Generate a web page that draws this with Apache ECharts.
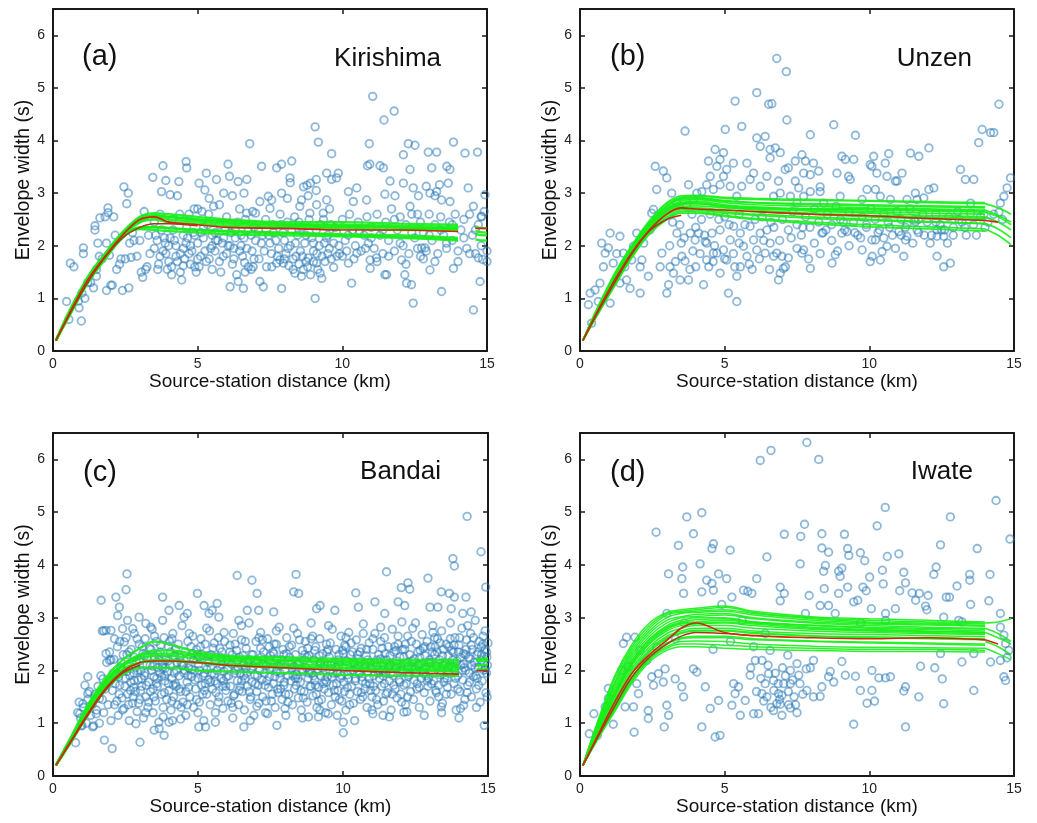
<!DOCTYPE html>
<html>
<head>
<meta charset="utf-8">
<script src="https://cdn.jsdelivr.net/npm/echarts@6.0.0/dist/echarts.min.js"></script>
<style>
  html, body { margin: 0; padding: 0; background: #ffffff; }
  #chart { width: 1037px; height: 823px; }
</style>
</head>
<body>
<div id="chart"></div>
<script>
// ---------------- data ----------------
const panelLetters = ['(a)', '(b)', '(c)', '(d)'];
const volcanoNames = ['Kirishima', 'Unzen', 'Bandai', 'Iwate'];
const xTickValues = [0, 5, 10, 15];
const yTickValues = [0, 1, 2, 3, 4, 5, 6];

// distances (km) at which the fitted envelope-width curves are sampled
const FIT_X = [0.1, 0.6, 1.2, 1.8, 2.4, 3, 3.5, 4, 5, 6, 8, 10, 12, 14];

// observations, flat [distance, width, distance, width, ...]
const kirishimaObs = [
0.47,0.94, 0.55,0.6, 0.6,1.67, 0.72,1.6, 0.88,0.95, 0.9,0.82, 0.98,0.57, 1.0,1.1, 1.05,1.96, 1.05,1.85,
1.1,1.0, 1.2,1.3, 1.3,1.3, 1.4,1.2, 1.45,2.38, 1.45,2.3, 1.5,1.42, 1.5,1.55, 1.55,2.05, 1.62,2.53,
1.6,1.8, 1.7,1.75, 1.8,2.55, 1.85,2.05, 1.85,1.15, 1.9,2.72, 1.9,2.63, 1.95,1.82, 2.0,1.25, 2.05,1.25,
2.1,2.55, 2.15,2.2, 2.2,1.55, 2.3,1.65, 2.35,1.75, 2.4,1.15, 2.45,3.12, 2.5,1.75, 2.55,2.8, 2.6,3.0,
2.62,1.2, 2.65,2.05, 2.7,1.78, 2.75,2.25, 2.8,2.1, 2.9,1.8, 3.0,2.1, 3.05,1.5, 3.1,1.4, 3.15,2.65,
3.2,1.55, 3.25,1.6, 3.3,2.2, 3.45,3.3, 3.5,1.95, 3.6,2.1, 3.65,1.65, 3.7,2.6, 3.75,3.03, 3.8,3.52,
3.8,1.9, 3.85,2.15, 3.9,3.24, 3.9,1.85, 3.95,1.55, 4.0,2.0, 4.05,2.97, 4.1,1.6, 4.1,1.45, 4.15,2.3,
4.2,2.1, 4.25,1.8, 4.3,2.95, 4.35,3.22, 4.4,1.5, 4.4,1.85, 4.45,1.35, 4.5,2.2, 4.55,1.75, 4.6,3.6,
4.62,3.48, 4.65,2.15, 4.7,2.6, 4.75,1.65, 4.8,1.9, 4.85,2.25, 4.9,1.6, 4.95,1.5, 5.0,2.7, 5.0,2.05,
5.05,3.19, 5.1,1.8, 5.15,2.65, 5.2,2.15, 5.25,3.06, 5.3,3.38, 5.3,1.7, 5.35,2.4, 5.4,2.9, 5.45,1.95,
5.5,2.2, 5.55,2.75, 5.6,1.9, 5.65,3.26, 5.7,2.1, 5.75,2.78, 5.8,1.5, 5.85,2.05, 5.9,3.0, 5.95,2.3,
6.0,1.85, 6.05,3.55, 6.1,3.32, 6.12,1.22, 6.15,2.25, 6.2,2.95, 6.25,1.95, 6.3,2.15, 6.35,1.45, 6.4,3.22,
6.4,1.32, 6.45,2.7, 6.5,2.0, 6.55,1.8, 6.58,1.19, 6.6,3.0, 6.65,2.5, 6.7,3.26, 6.75,1.6, 6.8,3.94,
6.85,2.2, 6.9,2.65, 6.95,1.75, 7.0,2.1, 3.55,2.2, 3.7,1.8, 4.05,2.15, 4.3,1.7, 4.5,1.95, 4.6,2.05,
4.7,1.85, 4.9,2.2, 5.05,1.6, 5.2,2.35, 5.4,1.75, 5.5,2.0, 5.6,2.25, 5.75,1.7, 5.9,2.15, 6.05,2.0,
6.2,1.65, 6.3,2.3, 6.45,1.9, 6.6,2.15, 6.7,1.95, 6.85,1.55, 6.95,2.35,
11.05,4.84, 11.79,4.56, 11.44,4.39, 9.06,4.26, 9.17,3.97, 10.93,3.94, 9.63,3.75, 12.28,3.94, 12.51,3.91, 12.97,3.78,
13.26,3.78, 13.84,3.97, 14.24,3.76, 14.67,3.78, 8.25,3.61, 7.9,3.55, 7.73,3.48, 7.21,3.51, 10.87,3.52, 10.95,3.55,
11.3,3.52, 11.42,3.48, 12.11,3.73, 12.34,3.45, 13.09,3.48, 13.61,3.51, 13.72,3.45, 9.46,3.38, 9.86,3.38, 9.8,3.29,
8.19,3.29, 8.2,3.2, 8.9,3.19, 8.78,3.15, 8.66,3.12, 9.1,3.26, 9.63,3.26, 11.65,3.23, 12.11,3.19, 12.45,3.1,
12.9,3.13, 13.36,3.16, 13.66,3.19, 14.35,3.1, 14.93,2.97, 14.81,2.56, 14.53,2.75, 13.2,2.95, 13.03,3.0, 13.26,3.03,
13.43,2.87, 13.72,2.84, 12.63,2.95, 12.34,2.75, 11.82,2.95, 11.47,2.98, 10.84,2.87, 10.21,3.03, 10.5,3.1, 10.38,2.84,
7.56,2.87, 7.5,2.71, 7.44,2.94, 7.15,2.84, 6.69,2.62, 7.9,3.0, 8.1,2.9, 8.59,2.87, 8.53,2.75, 8.82,2.95,
9.1,3.05, 9.46,2.87, 9.56,2.7, 9.34,2.62, 9.11,2.78,
15.0,1.7, 14.85,1.74, 14.7,1.77, 14.76,1.32, 14.53,0.78, 13.84,1.57, 13.43,1.13, 13.03,1.54, 12.45,0.91, 12.39,1.26,
12.22,1.29, 12.05,1.73, 12.16,1.45, 12.74,1.96, 12.86,1.96, 12.7,1.8, 11.47,1.45, 11.53,1.45, 11.18,1.77, 10.96,1.73,
10.96,1.57, 10.32,1.29, 10.5,1.86, 10.21,1.67, 9.81,1.8, 9.7,1.59, 9.29,1.38, 9.23,1.48, 9.06,1.0, 9.11,1.67,
8.82,1.77, 8.59,1.42, 8.36,1.48, 7.9,1.19, 7.96,1.67, 7.84,1.73, 7.73,1.67, 7.56,1.6, 7.27,1.22, 7.15,1.32,
6.64,1.5, 6.92,1.6,
7.1,2.3, 7.2,2.05, 7.3,1.9, 7.35,2.5, 7.45,2.2, 7.55,1.85, 7.6,2.4, 7.7,2.1, 7.8,1.95, 7.85,2.6,
7.95,2.25, 8.05,1.85, 8.1,2.45, 8.2,2.0, 8.3,1.75, 8.35,2.55, 8.45,2.2, 8.55,1.9, 8.6,2.35, 8.7,2.05,
8.75,1.7, 8.85,2.5, 8.95,2.15, 9.0,1.9, 9.1,2.3, 9.2,2.0, 9.3,1.8, 9.35,2.5, 9.45,2.15, 9.55,1.95,
9.6,2.4, 9.7,2.05, 9.8,2.25, 9.9,1.85, 10.0,2.5, 10.1,2.1, 10.15,1.9, 10.25,2.6, 10.35,2.3, 10.45,2.0,
10.55,2.45, 10.65,1.9, 10.75,2.2, 10.85,2.55, 10.9,2.05, 11.0,2.35, 11.1,1.95, 11.2,2.6, 11.3,2.2, 11.4,1.85,
11.5,2.45, 11.6,2.1, 11.7,2.7, 11.8,1.9, 11.9,2.3, 12.0,2.55, 12.1,2.0, 12.2,2.4, 12.3,1.85, 12.4,2.6,
12.5,2.15, 12.6,1.95, 12.7,2.45, 12.8,2.25, 12.9,1.9, 13.0,2.6, 13.1,2.1, 13.2,2.4, 13.3,1.85, 13.4,2.55,
13.5,2.2, 13.6,1.95, 13.7,2.45, 13.8,2.1, 13.9,2.6, 14.0,1.9, 14.1,2.3, 14.2,2.5, 14.3,1.95, 14.4,2.6,
14.5,2.2, 14.6,1.85, 14.7,2.4, 14.8,2.0, 14.9,2.65, 15.0,1.9,
8.0,1.75, 8.15,1.62, 8.3,1.55, 8.4,1.8, 8.5,1.65, 8.65,1.55, 8.8,1.6, 8.9,1.45, 9.0,1.7, 9.15,1.55,
9.4,1.7, 9.5,1.85,
3.35,1.85, 3.5,2.45, 3.62,1.55, 3.75,2.3, 3.88,2.05, 4.0,1.7, 4.12,2.5, 4.25,2.0, 4.38,2.6, 4.5,1.62,
4.62,2.35, 4.75,2.0, 4.88,2.7, 5.0,1.75, 5.12,2.25, 5.25,1.9, 5.38,2.6, 5.5,1.55, 5.62,2.1, 5.75,2.4,
5.88,1.8, 6.0,2.55, 6.12,2.0, 6.25,1.75, 6.38,2.45, 6.5,2.2, 6.62,1.68, 6.75,2.3, 6.88,1.9, 7.0,2.62,
7.12,1.75, 7.25,2.2, 7.38,1.6, 7.5,2.05, 7.62,2.25, 7.75,1.8, 7.88,2.4, 8.0,2.1, 8.12,1.95, 8.25,2.3,
8.38,2.05, 8.5,2.45, 8.62,1.8, 8.75,2.2, 8.88,2.62, 9.0,2.05, 9.12,1.85, 9.25,2.4, 9.38,2.05, 9.5,2.2,
9.62,1.75, 9.75,2.35, 9.88,2.0, 10.0,1.8, 10.2,2.2, 10.4,1.75, 10.6,2.28, 10.8,1.95, 11.0,2.15, 11.2,1.7,
11.4,2.3, 11.6,1.8, 11.8,2.5, 12.0,2.05, 12.2,1.65, 12.4,2.25, 12.6,2.6, 12.8,1.75, 13.0,2.2, 13.2,1.7,
13.4,2.3, 13.6,2.05, 13.8,2.4, 14.0,1.7, 14.2,2.15, 14.4,1.85, 14.6,2.3, 14.8,2.55
];

const unzenObs = [
0.29,0.88, 0.35,1.1, 0.4,0.53, 0.52,1.16, 0.63,0.94, 0.75,2.05, 0.69,1.29, 0.81,1.6, 0.87,1.86, 0.98,1.96,
1.04,2.24, 1.04,0.91, 1.15,1.67, 1.27,1.85, 1.38,1.29, 1.38,2.18, 1.5,1.86, 1.55,1.6, 1.61,1.35, 1.73,1.19,
1.79,1.73, 1.85,1.99, 1.96,2.24, 2.08,1.1, 2.08,1.6, 2.14,1.73, 2.2,2.05, 2.36,1.42, 2.42,2.3, 2.48,2.62,
2.54,2.69, 2.6,3.51, 2.65,3.07, 2.77,1.6, 2.83,1.86, 2.88,3.42, 3.0,3.29, 3.0,1.1, 3.06,1.26, 3.17,3.0,
3.11,1.6, 3.23,1.48, 3.35,2.24, 3.46,1.35, 3.52,1.8, 3.63,4.18, 3.63,1.71, 3.75,3.16, 3.75,1.35, 3.81,2.24,
3.87,2.6, 4.04,3.0, 4.1,2.24, 4.27,1.26, 4.33,2.08, 4.38,1.73, 4.44,3.61, 4.5,3.32, 4.61,1.86, 4.67,3.83,
4.73,3.51, 4.84,3.64, 4.84,1.48, 4.96,3.77, 5.02,4.21, 5.07,3.45, 5.13,1.1, 5.3,3.57, 5.36,4.75, 5.42,0.94,
5.42,1.42, 5.54,1.6, 5.59,4.27, 5.77,3.57, 5.88,3.26, 6.11,4.91, 6.11,4.05, 6.23,3.89, 6.4,4.08, 6.52,4.69,
6.57,3.67, 6.75,3.86,
3.98,2.11, 4.38,2.05, 4.56,2.24, 4.73,1.86, 4.84,2.3, 4.96,1.92, 5.07,1.73, 5.19,2.11, 5.31,2.37, 5.54,2.24,
5.65,1.99, 5.77,1.8, 5.88,2.37, 6.0,2.11, 6.11,1.92, 6.23,2.24, 6.4,1.86, 6.46,2.3, 6.57,2.05, 6.69,1.8,
3.35,2.81, 3.69,2.75, 3.92,2.88, 4.21,3.03, 4.38,3.16, 4.61,3.07, 4.84,3.16, 4.96,3.32, 5.19,3.13, 5.42,2.94,
5.59,3.13, 6.0,3.38, 6.23,3.13, 6.46,3.32, 6.69,2.94, 3.2,2.45, 3.5,2.05, 3.9,1.9, 4.2,2.5, 4.5,2.6,
5.0,2.55, 5.5,2.6, 6.3,2.55, 6.6,2.45, 4.0,1.6, 4.6,1.7, 5.3,1.85, 5.95,1.55,
6.8,5.56, 7.13,5.31, 6.63,4.7, 7.15,4.39, 8.77,4.3, 7.96,4.11, 9.52,4.1, 6.57,3.83, 6.92,3.77, 7.67,3.73,
7.44,3.61, 7.79,3.61, 8.07,3.57, 7.09,3.45, 7.2,3.48, 7.73,3.38, 7.96,3.35, 8.25,3.42, 6.86,3.23, 7.44,3.23,
7.56,3.1, 8.88,3.38, 9.05,3.7, 9.17,3.64, 9.46,3.64, 9.28,3.32, 9.34,3.26, 10.03,3.54, 10.15,3.7, 10.55,3.57,
10.67,3.75, 10.09,3.51, 10.26,3.38, 10.61,3.32, 10.9,3.23, 10.96,3.23, 11.13,3.38, 11.42,3.76, 11.71,3.7, 12.06,3.86,
13.15,3.45, 13.32,3.26, 13.61,3.26, 13.78,3.96, 13.9,4.21, 14.19,4.15, 14.3,4.15, 14.48,4.69, 14.88,3.29, 14.76,3.1,
14.65,2.94, 14.53,2.81, 14.48,2.64, 13.5,2.81, 12.23,3.1, 12.06,3.07, 11.88,2.91, 11.59,3.0, 11.65,2.88, 11.3,2.88,
10.73,2.88, 10.38,2.94, 10.21,3.07, 9.92,3.07, 9.75,2.88, 8.99,2.94, 8.42,2.81, 8.3,3.03, 8.3,3.12, 7.96,3.03,
7.73,2.94, 7.5,2.81, 6.92,3.0, 7.27,2.94,
6.86,1.35, 6.92,1.48, 7.03,1.57, 6.98,1.8, 6.8,1.86, 7.2,1.77, 7.67,1.86, 7.73,1.92, 7.96,1.57, 8.71,1.67,
8.82,1.83, 8.36,2.24, 9.05,2.24, 9.23,2.27, 9.75,1.92, 10.03,1.7, 10.09,2.11, 10.21,2.11, 10.38,1.73, 10.44,1.89,
10.61,1.99, 11.02,2.27, 11.19,1.8, 11.25,2.11, 11.3,2.18, 11.65,2.3, 11.59,2.46, 12.34,2.3, 12.34,2.18, 12.57,2.18,
12.34,1.8, 12.57,1.6, 12.8,1.67, 13.5,2.62, 13.96,2.6,
7.0,2.5, 7.2,2.3, 7.35,2.65, 7.5,2.4, 7.65,2.2, 7.8,2.55, 7.95,2.35, 8.1,2.7, 8.25,2.45, 8.4,2.25,
8.55,2.6, 8.7,2.4, 8.85,2.75, 9.0,2.5, 9.15,2.3, 9.3,2.65, 9.45,2.45, 9.6,2.2, 9.75,2.55, 9.9,2.35,
10.05,2.7, 10.2,2.5, 10.35,2.3, 10.5,2.6, 10.65,2.45, 10.8,2.2, 10.95,2.65, 11.1,2.5, 11.25,2.35, 11.4,2.7,
11.55,2.5, 11.7,2.25, 11.85,2.6, 12.0,2.45, 12.15,2.2, 12.3,2.6, 12.45,2.4, 12.6,2.3, 12.75,2.55, 12.9,2.35,
13.05,2.65, 13.2,2.45, 13.35,2.2, 13.6,2.4, 13.85,2.55, 14.1,2.45, 14.6,2.5,
3.1,2.0, 3.3,1.7, 3.45,2.4, 3.6,2.15, 3.8,1.55, 4.0,2.35, 4.15,1.85, 4.3,2.2, 4.45,1.6, 4.65,2.0,
4.8,2.5, 5.0,1.75, 5.15,2.4, 5.35,1.6, 5.5,2.05, 5.7,2.4, 5.85,1.65, 6.05,2.5, 6.2,1.75, 6.35,2.1,
6.55,1.55, 6.7,2.35, 6.9,2.1, 7.1,1.6, 7.3,2.15, 7.5,1.95, 7.7,2.35, 7.9,1.75, 8.1,2.05, 8.3,1.85,
8.5,2.3, 8.7,2.1, 8.9,1.9, 9.1,2.45, 9.3,2.0, 9.5,2.25, 9.7,2.15, 9.9,2.4, 10.1,1.8, 10.3,2.25,
10.5,2.15, 10.7,2.35, 10.9,1.95, 11.1,2.2, 11.3,2.4, 11.5,2.05, 11.7,2.5, 11.9,2.2, 12.1,2.05, 12.3,2.45,
12.5,2.3, 12.7,2.05, 12.9,2.2, 13.1,2.5, 13.3,2.35, 13.7,2.2, 14.0,2.35, 14.3,2.6
];

const bandaiObs = [
0.78,0.63, 0.97,0.96, 0.92,1.18, 1.03,1.37, 1.2,1.56, 1.2,1.88, 1.37,0.93, 1.49,1.18, 1.6,1.47, 1.66,3.33,
1.72,1.84, 1.77,0.68, 1.83,2.76, 2.0,2.76, 1.83,2.32, 1.95,2.19, 2.04,0.52, 2.17,3.39, 2.29,3.2, 2.23,3.04,
2.4,2.79, 2.46,2.54, 2.52,3.53, 2.55,3.83, 2.57,2.95, 2.75,2.79, 2.8,1.81, 2.86,0.99, 2.97,3.01, 3.0,0.64,
3.2,2.89, 3.37,2.82, 3.49,0.87, 3.66,0.9, 3.78,2.95, 3.83,0.77, 3.78,3.39, 4.0,3.14, 4.0,1.02, 4.12,1.05,
4.35,3.23, 4.52,3.01, 4.63,3.08, 4.98,3.46, 5.03,0.93, 5.21,3.23, 5.26,0.93, 5.38,3.08, 5.49,3.14, 5.66,3.27,
5.72,3.01, 6.35,3.8, 6.58,0.93, 6.41,2.95, 6.7,3.14, 6.86,3.71, 7.04,3.46,
14.28,4.92, 14.76,4.25, 13.79,4.12, 13.84,3.98, 11.5,3.87, 8.38,3.82, 12.93,3.75, 12.24,3.66, 8.3,3.49, 8.47,3.46,
10.44,3.47, 12.01,3.57, 12.3,3.54, 11.1,3.3, 13.39,3.49, 13.67,3.46, 13.84,3.39, 14.24,3.39, 14.92,3.58, 15.04,3.33,
9.21,3.23, 9.09,3.17, 7.09,3.14, 7.61,3.11, 9.72,3.14, 10.53,3.2, 11.44,3.08, 11.9,3.3, 12.13,3.23, 13.0,3.2,
13.27,3.2, 13.73,3.17, 14.13,3.08, 14.42,3.11,
14.87,0.96, 10.01,1.02, 10.01,0.82, 7.72,0.96, 9.15,1.12, 8.81,1.12, 9.49,1.18, 11.03,1.18, 11.38,1.15, 12.1,1.21,
13.39,1.31, 14.05,1.28, 14.16,1.34, 14.97,1.5,
0.85,1.2, 0.9,1.4, 0.95,1.1, 1.0,0.95, 1.05,1.3, 1.1,1.72, 1.15,1.0, 1.2,1.45, 1.25,1.6, 1.3,1.15,
1.35,1.35, 1.4,0.95, 1.45,1.55, 1.5,1.25, 1.55,1.7, 1.6,1.0, 1.65,1.9, 1.7,1.45, 1.75,1.2, 1.8,1.65,
1.85,2.15, 1.9,1.35, 1.95,1.8, 2.0,1.05, 1.7,2.75, 1.75,2.75, 1.95,2.35, 2.0,2.2,
2.05,1.62, 2.1,2.21, 2.12,1.35, 2.18,1.9, 2.22,2.45, 2.25,1.15, 2.3,1.72, 2.33,2.05, 2.38,1.48, 2.42,2.3,
2.45,1.28, 2.5,1.85, 2.52,2.62, 2.57,1.55, 2.6,2.08, 2.63,1.05, 2.68,1.78, 2.7,2.4, 2.74,1.38, 2.78,1.95,
2.8,2.7, 2.84,1.6, 2.88,2.15, 2.9,1.22, 2.94,1.82, 2.97,2.5, 3.0,1.45, 3.03,2.0, 3.06,1.7, 3.1,2.32,
3.12,1.1, 3.15,1.9, 3.18,2.6, 3.2,1.5, 3.24,2.12, 3.27,1.3, 3.3,1.78, 3.33,2.42, 3.36,1.6, 3.4,2.0,
3.42,2.78, 3.45,1.2, 3.48,1.88, 3.5,2.25, 3.53,1.42, 3.56,2.55, 3.6,1.7, 3.62,2.05, 3.65,1.02, 3.68,1.95,
3.7,2.35, 3.74,1.55, 3.77,2.12, 3.8,1.3, 3.83,2.62, 3.86,1.8, 3.9,2.2, 3.92,1.45, 3.95,1.98, 3.98,2.45,
4.0,1.62, 4.04,2.1, 4.07,1.25, 4.1,1.85, 4.13,2.7, 4.16,1.5, 4.2,2.28, 4.22,1.75, 4.26,2.0, 4.3,1.35,
4.32,2.5, 4.35,1.9, 4.4,1.6, 4.42,2.15, 4.45,2.85, 4.48,1.4, 4.52,1.95, 4.55,2.35, 4.58,1.15, 4.62,1.78,
4.65,2.55, 4.68,2.05, 4.72,1.5, 4.75,2.25, 4.78,1.88, 4.82,2.65, 4.85,1.3, 4.88,2.0, 4.92,1.65, 4.95,2.4,
5.0,1.85, 5.02,2.12, 5.05,1.4, 5.1,2.6, 5.12,1.72, 5.15,2.3, 5.2,1.05, 5.22,1.95, 5.25,2.5, 5.3,1.55,
5.32,2.18, 5.36,1.82, 5.4,2.75, 5.42,1.35, 5.45,2.05, 5.5,1.65, 5.52,2.42, 5.56,1.92, 5.6,1.2, 5.62,2.25,
5.66,1.75, 5.7,2.62, 5.72,1.5, 5.76,2.08, 5.8,1.85, 5.82,2.35, 5.86,1.28, 5.9,1.98, 5.92,2.55, 5.96,1.62,
6.0,2.2, 6.03,1.42, 6.06,1.9, 6.1,2.48, 6.12,1.7, 6.16,2.12, 6.2,1.1, 6.22,2.7, 6.26,1.55, 6.3,2.0,
6.33,2.38, 6.36,1.8, 6.4,1.35, 6.43,2.25, 6.46,1.95, 6.5,2.58, 6.53,1.6, 6.56,2.1, 6.6,1.25, 6.63,1.85,
6.66,2.42, 6.7,1.7, 6.73,2.15, 6.76,2.9, 6.8,1.45, 6.83,2.02, 6.86,1.78, 6.9,2.3, 6.93,1.15, 6.96,1.92,
7.0,2.55, 7.03,1.6, 7.06,2.18, 7.1,1.38, 7.13,2.0, 7.16,2.72, 7.2,1.82, 7.23,1.5, 7.26,2.35, 7.3,1.95,
7.33,1.2, 7.36,2.1, 7.4,2.6, 7.43,1.68, 7.46,1.88, 7.5,2.28, 7.53,1.42, 7.56,2.05, 7.6,1.75, 7.63,2.5,
7.66,1.3, 7.7,1.98, 7.73,2.2, 7.76,1.58, 7.8,2.82, 7.83,1.85, 7.86,2.12, 7.9,1.45, 7.93,2.4, 7.96,1.72,
8.0,2.0, 8.03,1.15, 8.06,2.62, 8.1,1.9, 8.13,1.55, 8.16,2.25, 8.2,1.8, 8.23,2.48, 8.26,1.35, 8.3,2.08,
8.33,1.65, 8.36,2.3, 8.4,1.92, 8.43,2.7, 8.46,1.48, 8.5,2.15, 8.53,1.78, 8.56,1.25, 8.6,2.38, 8.63,1.98,
8.66,1.6, 8.7,2.55, 8.73,2.05, 8.76,1.4, 8.8,1.85, 8.83,2.28, 8.86,1.7, 8.9,2.9, 8.93,1.95, 8.96,1.52,
9.0,2.2, 9.03,1.82, 9.06,2.45, 9.1,1.3, 9.13,2.02, 9.16,1.68, 9.2,2.6, 9.23,1.9, 9.26,1.45, 9.3,2.32,
9.33,1.75, 9.36,2.1, 9.4,1.2, 9.43,2.5, 9.46,1.88, 9.5,1.58, 9.53,2.25, 9.56,2.0, 9.6,1.35, 9.63,2.78,
9.66,1.72, 9.7,2.15, 9.73,1.5, 9.76,2.4, 9.8,1.95, 9.83,1.62, 9.86,2.3, 9.9,1.85, 9.93,2.65, 9.96,1.42,
10.0,2.05, 10.03,1.78, 10.06,2.48, 10.1,1.25, 10.13,2.18, 10.16,1.92, 10.2,2.72, 10.23,1.55, 10.26,2.0, 10.3,1.7,
10.33,2.35, 10.36,1.38, 10.4,2.12, 10.43,1.85, 10.46,2.58, 10.5,1.6, 10.53,2.22, 10.56,1.95, 10.6,1.45, 10.63,2.42,
10.66,1.8, 10.7,2.88, 10.73,2.05, 10.76,1.65, 10.8,2.28, 10.83,1.3, 10.86,1.98, 10.9,2.52, 10.93,1.75, 10.96,2.15,
11.0,1.5, 11.03,2.4, 11.06,1.9, 11.1,2.7, 11.13,1.62, 11.16,2.08, 11.2,1.35, 11.23,2.3, 11.26,1.85, 11.3,2.55,
11.33,1.7, 11.36,2.0, 11.4,1.42, 11.43,2.62, 11.46,1.95, 11.5,2.2, 11.53,1.58, 11.56,2.45, 11.6,1.8, 11.63,2.1,
11.66,1.25, 11.7,2.78, 11.73,1.9, 11.76,2.35, 11.8,1.65, 11.83,2.05, 11.86,1.48, 11.9,2.5, 11.93,1.82, 11.96,2.25,
12.0,1.55, 12.03,2.92, 12.06,2.0, 12.1,1.72, 12.13,2.4, 12.16,1.35, 12.2,2.15, 12.23,2.65, 12.26,1.88, 12.3,2.3,
12.33,1.6, 12.36,2.05, 12.4,2.8, 12.43,1.45, 12.46,2.22, 12.5,1.95, 12.53,2.5, 12.56,1.75, 12.6,2.1, 12.63,1.3,
12.66,2.38, 12.7,1.85, 12.73,2.68, 12.76,2.02, 12.8,1.58, 12.83,2.28, 12.86,1.9, 12.9,2.55, 12.93,1.7, 12.96,2.15,
13.0,1.42, 13.03,2.45, 13.06,2.0, 13.1,2.85, 13.13,1.8, 13.16,2.3, 13.2,1.62, 13.23,2.08, 13.26,2.6, 13.3,1.5,
13.33,2.2, 13.36,1.92, 13.4,2.75, 13.43,1.38, 13.46,2.4, 13.5,1.85, 13.53,2.12, 13.56,2.5, 13.6,1.68, 13.63,2.28,
13.66,1.95, 13.7,2.9, 13.73,1.55, 13.76,2.05, 13.8,2.35, 13.83,1.75, 13.86,2.62, 13.9,1.25, 13.93,2.18, 13.96,1.9,
14.0,2.48, 14.03,1.6, 14.06,2.1, 14.1,2.8, 14.13,1.82, 14.16,2.32, 14.2,1.45, 14.23,2.0, 14.26,2.58, 14.3,1.72,
14.33,2.25, 14.36,1.95, 14.4,2.7, 14.43,1.5, 14.46,2.4, 14.5,1.88, 14.53,2.15, 14.56,2.95, 14.6,1.65, 14.63,2.3,
14.66,2.05, 14.7,2.55, 14.73,1.4, 14.76,2.2, 14.8,1.8, 14.83,2.65, 14.86,2.0, 14.9,2.4, 14.93,1.58, 14.96,2.25,
15.0,2.52,
2.15,1.75, 2.4,2.0, 2.65,1.9, 2.85,2.05, 3.05,1.85, 3.25,2.25, 3.45,1.65, 3.65,2.2, 3.85,1.9, 4.05,2.35,
4.25,1.7, 4.45,2.1, 4.65,1.9, 4.85,2.2, 5.05,2.0, 5.25,1.75, 5.45,2.3, 5.65,2.0, 5.85,1.7, 6.05,2.15,
6.25,1.95, 6.45,1.7, 6.65,2.05, 6.85,2.3, 7.05,1.9, 7.25,2.12, 7.45,2.45, 7.65,1.88, 7.85,1.65, 8.05,2.32,
8.25,2.05, 8.45,1.85, 8.65,2.2, 8.85,2.0, 9.05,1.72, 9.25,2.15, 9.45,2.35, 9.65,1.95, 9.85,2.1, 10.05,1.6,
10.25,2.3, 10.45,2.05, 10.65,1.88, 10.85,2.2, 11.05,1.7, 11.25,2.0, 11.45,2.32, 11.65,1.95, 11.85,2.18, 12.05,2.4,
12.25,2.08, 12.45,1.82, 12.65,2.25, 12.85,2.05, 13.05,1.75, 13.25,2.35, 13.45,2.1, 13.65,2.45, 13.85,2.0, 14.05,2.25,
14.25,2.4, 14.45,2.1, 14.65,2.35, 14.85,2.15, 14.95,1.95,
2.28,1.55, 2.55,2.3, 2.78,1.68, 2.98,2.18, 3.18,1.95, 3.38,2.4, 3.58,1.85, 3.78,2.05, 3.98,1.75, 4.18,1.95,
4.38,2.25, 4.58,1.6, 4.78,2.02, 4.98,2.3, 5.18,1.9, 5.38,2.15, 5.58,1.8, 5.78,2.25, 5.98,1.88, 6.18,2.3,
6.38,2.05, 6.58,1.9, 6.78,2.2, 6.98,1.75, 7.18,2.25, 7.38,1.8, 7.58,2.35, 7.78,2.1, 7.98,1.78, 8.18,2.15,
8.38,1.72, 8.58,2.02, 8.78,2.42, 8.98,1.9, 9.18,2.28, 9.38,1.82, 9.58,2.1, 9.78,1.75, 9.98,2.38, 10.18,1.85,
10.38,2.15, 10.58,2.35, 10.78,1.75, 10.98,2.05, 11.18,2.2, 11.38,1.9, 11.58,2.12, 11.78,2.45, 11.98,2.0, 12.18,1.75,
12.38,2.18, 12.58,2.35, 12.78,1.95, 12.98,2.2, 13.18,2.45, 13.38,2.0, 13.58,1.85, 13.78,2.2, 13.98,2.35, 14.18,2.05,
14.38,2.22, 14.58,1.9, 14.78,2.3, 14.98,2.1,
2.07,1.95, 2.2,1.42, 2.35,2.15, 2.48,1.7, 2.62,2.35, 2.76,1.5, 2.9,2.0, 3.02,1.62, 3.16,2.28, 3.3,1.4,
3.44,2.08, 3.57,1.75, 3.71,2.48, 3.84,1.58, 3.97,2.18, 4.1,1.42, 4.23,2.4, 4.36,1.65, 4.5,2.1, 4.63,1.35,
4.76,2.45, 4.9,1.82, 5.03,2.25, 5.16,1.55, 5.3,2.02, 5.43,1.78, 5.56,2.52, 5.7,1.4, 5.83,2.12, 5.96,1.7,
6.1,2.35, 6.23,1.52, 6.36,2.18, 6.5,1.8, 6.63,2.55, 6.76,1.6, 6.9,2.08, 7.03,1.32, 7.16,2.42, 7.3,1.72,
7.43,2.2, 7.56,1.55, 7.7,2.5, 7.83,1.95, 7.96,2.3, 8.1,1.4, 8.23,2.12, 8.36,1.85, 8.5,2.58, 8.63,1.48,
8.76,2.25, 8.9,1.7, 9.03,2.38, 9.16,1.42, 9.3,2.05, 9.43,1.78, 9.56,2.52, 9.7,1.62, 9.83,2.2, 9.96,1.9,
10.1,2.45, 10.23,1.35, 10.36,2.0, 10.5,2.3, 10.63,1.58, 10.76,2.12, 10.9,1.85, 11.03,2.6, 11.16,1.45, 11.3,2.22,
11.43,1.75, 11.56,2.05, 11.7,1.55, 11.83,2.38, 11.96,1.78, 12.1,2.25, 12.23,1.5, 12.36,2.55, 12.5,2.02, 12.63,1.68,
12.76,2.42, 12.9,1.8, 13.03,2.15, 13.16,2.62, 13.3,1.72, 13.43,2.28, 13.56,1.55, 13.7,2.1, 13.83,2.48, 13.96,1.65,
14.1,2.0, 14.23,2.3, 14.36,1.78, 14.5,2.62, 14.63,1.85, 14.76,2.45, 14.9,2.02,
2.12,2.6, 2.26,1.88, 2.4,1.25, 2.54,1.98, 2.67,1.62, 2.8,2.25, 2.95,1.38, 3.08,2.45, 3.22,1.72, 3.35,2.1,
3.48,1.5, 3.62,2.3, 3.75,1.88, 3.88,2.05, 4.02,2.55, 4.15,1.72, 4.28,2.15, 4.42,1.3, 4.55,2.0, 4.68,1.68,
4.82,2.32, 4.95,1.45, 5.08,2.45, 5.22,1.62, 5.35,2.28, 5.48,1.95, 5.62,1.58, 5.75,2.42, 5.88,1.8, 6.02,2.05,
6.15,1.38, 6.28,2.5, 6.42,1.62, 6.55,2.28, 6.68,1.95, 6.82,1.5, 6.95,2.18, 7.08,1.72, 7.22,2.58, 7.35,1.42,
7.48,2.02, 7.62,2.32, 7.75,1.65, 7.88,2.2, 8.02,1.55, 8.15,2.45, 8.28,1.9, 8.42,2.12, 8.55,1.62, 8.68,2.3,
8.82,1.95, 8.95,2.65, 9.08,1.55, 9.22,2.12, 9.35,1.65, 9.48,2.4, 9.62,1.88, 9.75,2.05, 9.88,1.45, 10.02,2.32,
10.15,1.68, 10.28,2.52, 10.42,1.8, 10.55,2.08, 10.68,1.5, 10.82,2.4, 10.95,1.62, 11.08,2.15, 11.22,1.95, 11.35,2.42,
11.48,1.55, 11.62,2.28, 11.75,1.72, 11.88,2.12, 12.02,1.4, 12.15,2.5, 12.28,1.92, 12.42,2.02, 12.55,1.65, 12.68,2.12,
12.82,2.45, 12.95,1.85, 13.08,2.35, 13.22,1.58, 13.35,2.52, 13.48,1.78, 13.62,2.05, 13.75,2.38, 13.88,1.85, 14.02,2.62,
14.15,2.12, 14.28,1.58, 14.42,2.48, 14.55,2.05, 14.68,1.72, 14.82,2.5, 14.95,2.35,
2.3,2.55, 2.6,1.35, 2.9,2.6, 3.2,1.2, 3.5,2.65, 3.8,1.12, 4.1,2.6, 4.4,1.08, 4.7,2.7, 5.0,1.2,
5.3,2.8, 5.6,1.02, 5.9,2.72, 6.2,1.3, 6.5,2.85, 6.8,1.05, 7.1,2.62, 7.4,1.18, 7.7,2.75, 8.0,1.28,
8.3,2.8, 8.6,1.1, 8.9,2.6, 9.2,1.25, 9.5,2.85, 9.8,1.15, 10.1,2.62, 10.4,1.05, 10.7,2.7, 11.0,1.25,
11.3,2.82, 11.6,1.12, 11.9,2.65, 12.2,1.22, 12.5,2.9, 12.8,1.15, 13.1,2.72, 13.4,1.2, 13.7,2.6, 14.0,1.1,
14.3,2.85, 14.6,1.3, 14.9,2.75
];

const iwateObs = [
0.32,0.8, 0.48,1.18, 0.6,0.77, 0.87,1.31, 0.98,1.47, 1.15,0.98, 0.98,1.66, 1.44,2.0, 1.5,2.51, 1.61,2.63,
1.67,2.07, 1.56,1.31, 1.9,2.63, 1.85,1.31, 1.87,0.83, 1.96,1.75, 2.02,1.56, 2.08,2.38, 2.31,2.19, 2.36,1.24,
2.36,1.09, 2.48,1.88, 2.54,1.72, 2.63,4.62, 2.65,2.44, 2.71,1.94, 2.88,1.78, 2.94,2.03, 2.91,0.93, 3.0,1.34,
3.06,3.83, 3.0,3.08, 3.06,1.15, 3.29,1.84, 3.4,4.37, 3.52,3.74, 3.55,3.96, 3.58,3.46, 3.52,1.69, 3.58,1.5,
3.69,4.91, 3.92,4.59, 3.92,2.03, 4.04,1.97, 4.21,4.99, 4.15,4.02, 4.21,3.49, 4.21,0.93, 4.33,1.69, 4.38,3.71,
4.56,4.31, 4.61,4.4, 4.56,3.65, 4.61,3.52, 4.67,0.74, 4.84,0.77, 4.79,1.43, 4.5,1.28, 4.79,3.83, 5.07,3.74,
5.19,4.28, 5.25,3.39, 5.25,1.34, 5.31,1.75, 5.36,1.56, 5.48,1.69, 5.54,1.15, 5.65,3.52, 5.71,1.43, 5.88,1.91,
5.94,3.46, 6.0,1.18, 6.11,3.74, 6.17,1.18, 6.23,5.98, 6.29,1.56, 6.46,4.15, 6.4,1.75, 6.46,1.5, 6.6,6.17,
3.3,2.6, 3.6,2.9, 4.6,2.4, 5.2,2.55, 5.6,2.95, 6.0,2.45, 6.4,2.7, 4.9,3.25, 5.8,3.5,
5.9,2.05, 6.1,1.6, 6.25,1.85, 6.35,1.42, 6.5,2.1, 6.6,1.3, 6.7,1.62, 6.75,1.95, 6.85,1.75, 6.9,1.45,
7.0,2.05, 7.1,1.9, 7.2,1.6, 7.35,1.82, 7.4,1.5, 7.45,1.35, 7.6,1.75, 7.7,1.55, 6.52,1.94, 6.69,1.81,
6.8,1.37, 6.69,1.24, 6.86,1.56, 6.29,2.19, 6.06,2.19,
7.84,6.32, 8.25,6.0, 10.55,5.09, 14.38,5.22, 12.8,4.91, 10.27,4.74, 7.76,4.77, 7.06,4.58, 7.63,4.54, 8.36,4.59,
9.14,4.58, 14.86,4.49, 8.36,4.32, 8.59,4.24, 9.25,4.31, 9.29,4.18, 9.69,4.23, 9.84,4.08, 10.62,4.16, 11.02,4.21,
12.46,4.38, 13.73,4.31, 7.61,4.02, 8.48,3.99, 8.42,3.88, 8.94,3.88, 8.99,3.78, 9.05,3.94, 10.01,3.77, 10.45,3.9,
11.19,3.86, 12.31,3.96, 12.23,3.82, 13.47,3.82, 13.47,3.71, 14.17,3.82, 6.92,3.58, 7.06,3.46, 7.92,3.42, 8.44,3.55,
8.94,3.46, 9.25,3.58, 9.46,3.3, 9.6,3.33, 9.78,3.58, 9.89,3.51, 10.48,3.64, 11.05,3.51, 11.25,3.66, 11.48,3.47,
11.6,3.33, 11.73,3.46, 12.03,3.42, 11.94,3.22, 12.66,3.39, 12.77,3.39, 13.03,3.6, 13.5,3.25, 14.13,3.32, 14.53,3.08,
6.92,3.32, 8.3,3.23, 8.59,3.23, 10.07,3.17, 10.56,3.08, 10.9,3.17, 11.99,3.15, 12.57,3.01, 13.09,2.95, 13.2,2.92,
14.53,2.82, 14.65,2.67, 14.71,2.51, 14.82,2.38, 14.76,2.24, 14.65,1.88, 14.71,1.81, 13.61,1.62, 13.2,2.16, 12.52,1.84,
12.57,1.37, 12.26,2.05, 11.77,2.08, 11.71,1.5, 11.25,1.69, 11.19,1.61, 11.25,0.93, 10.73,1.88, 10.56,1.86, 10.33,1.86,
10.09,1.62, 10.09,2.0, 9.92,1.38, 10.18,1.42, 9.69,1.62, 9.46,0.98, 9.52,1.89, 9.17,1.91, 9.05,2.17, 8.77,1.78,
8.59,1.88, 8.65,1.98, 8.36,1.69, 8.3,1.51, 8.07,1.5, 7.84,1.62, 7.82,2.03, 8.07,2.19, 7.96,2.05, 7.5,2.13,
7.27,2.0, 7.18,2.29, 7.56,1.91, 7.27,1.75, 7.04,1.75, 6.98,1.53, 7.21,1.35, 6.92,1.36, 7.27,1.29, 6.98,1.15,
7.5,1.2, 7.79,3.08, 8.82,3.08, 10.56,2.95, 12.46,2.32, 13.61,2.32, 14.19,2.16, 14.53,2.19, 6.57,2.38, 9.7,2.9
];

// fitted curves: width values sampled at FIT_X
const kirishimaFits = [
  [0.2,0.8,1.4,1.85,2.25,2.55,2.62,2.6,2.55,2.5,2.45,2.45,2.42,2.4],
  [0.2,0.75,1.3,1.8,2.2,2.45,2.58,2.55,2.5,2.48,2.42,2.4,2.38,2.36],
  [0.2,0.7,1.3,1.75,2.15,2.35,2.35,2.33,2.3,2.28,2.25,2.22,2.2,2.15],
  [0.2,0.75,1.35,1.8,2.2,2.45,2.5,2.45,2.42,2.38,2.35,2.33,2.3,2.3],
  [0.2,0.72,1.3,1.78,2.18,2.32,2.3,2.28,2.25,2.22,2.2,2.18,2.15,2.1],
  [0.2,0.78,1.4,1.85,2.25,2.52,2.58,2.55,2.5,2.45,2.4,2.38,2.35,2.32],
  [0.2,0.72,1.3,1.75,2.15,2.35,2.36,2.34,2.3,2.27,2.24,2.2,2.17,2.12],
  [0.2,0.76,1.36,1.82,2.22,2.48,2.55,2.5,2.46,2.42,2.38,2.36,2.34,2.33]
];
const kirishimaRed = [0.2,0.75,1.35,1.8,2.2,2.5,2.55,2.45,2.4,2.35,2.33,2.3,2.3,2.27];
const kirishimaRedAlt = [0.2,0.72,1.3,1.78,2.15,2.35,2.42,2.42,2.38,null,null,null,null,null];
const kirishimaTailX = [14.6, 14.8, 15];
const kirishimaTails = [[2.35,2.34,2.33],[2.22,2.2,2.2],[2.12,2.1,2.1],[2.28,2.26,2.25]];
const kirishimaRedTail = [2.33,2.33,2.33];

const unzenFits = [
  [0.2,0.8,1.45,2.0,2.45,2.8,2.92,2.95,2.9,2.88,2.86,2.85,2.82,2.8],
  [0.2,0.78,1.4,1.95,2.4,2.72,2.85,2.88,2.82,2.78,2.75,2.72,2.7,2.68],
  [0.2,0.75,1.35,1.9,2.35,2.65,2.78,2.8,2.75,2.72,2.68,2.65,2.62,2.6],
  [0.2,0.72,1.3,1.85,2.3,2.6,2.72,2.72,2.68,2.65,2.6,2.55,2.52,2.5],
  [0.2,0.7,1.28,1.82,2.28,2.55,2.68,2.68,2.62,2.58,2.52,2.48,2.45,2.42],
  [0.2,0.7,1.25,1.8,2.25,2.52,2.65,2.65,2.58,2.52,2.45,2.4,2.36,2.32],
  [0.2,0.8,1.42,1.98,2.42,2.75,2.9,2.92,2.86,2.82,2.8,2.78,2.76,2.74],
  [0.2,0.74,1.32,1.88,2.32,2.62,2.75,2.76,2.72,2.7,2.66,2.62,2.58,2.55],
  [0.2,0.76,1.38,1.92,2.38,2.7,2.82,2.85,2.78,2.74,2.7,2.68,2.66,2.64],
  [0.2,0.82,1.48,2.02,2.48,2.82,2.95,2.96,2.92,2.9,2.88,2.86,2.84,2.82],
  [0.2,0.72,1.32,1.86,2.32,2.6,2.7,2.7,2.65,2.6,2.55,2.5,2.46,2.42],
  [0.2,0.68,1.24,1.78,2.22,2.5,2.62,2.62,2.56,2.5,2.42,2.36,2.32,2.28],
  [0.2,0.78,1.42,1.96,2.42,2.76,2.88,2.9,2.85,2.82,2.78,2.76,2.74,2.72],
  [0.2,0.74,1.34,1.9,2.34,2.66,2.8,2.82,2.76,2.72,2.7,2.7,2.68,2.66],
  [0.2,0.76,1.36,1.9,2.36,2.68,2.8,2.8,2.74,2.68,2.62,2.58,2.55,2.52]
];
const unzenRed = [0.2,0.75,1.35,1.88,2.3,2.6,2.72,2.7,2.68,2.65,2.6,2.57,2.52,2.48];
const unzenRedAlt = [0.2,0.72,1.3,1.85,2.28,2.5,2.58,null,null,null,null,null,null,null];
const unzenTailX = [14, 14.45, 14.9];
const unzenTails = [[2.8,2.72,2.6],[2.68,2.58,2.45],[2.55,2.45,2.3],[2.42,2.32,2.15],[2.32,2.2,2.02],[2.64,2.55,2.4]];
const unzenRedTail = [2.48,2.45,null];

const bandaiFits = [
  [0.2,0.72,1.35,1.85,2.2,2.42,2.55,2.5,2.35,2.28,2.25,2.22,2.2,2.2],
  [0.2,0.7,1.3,1.8,2.12,2.3,2.38,2.38,2.3,2.25,2.2,2.18,2.15,2.15],
  [0.2,0.68,1.25,1.75,2.08,2.22,2.28,2.28,2.22,2.18,2.12,2.1,2.08,2.06],
  [0.2,0.65,1.2,1.68,2.0,2.15,2.18,2.18,2.15,2.1,2.05,2.02,2.0,1.98],
  [0.2,0.62,1.15,1.62,1.92,2.05,2.05,2.05,2.0,1.98,1.95,1.92,1.9,1.9],
  [0.2,0.7,1.28,1.78,2.1,2.28,2.32,2.32,2.28,2.22,2.18,2.15,2.12,2.1],
  [0.2,0.66,1.22,1.7,2.02,2.15,2.2,2.2,2.15,2.12,2.08,2.05,2.03,2.02]
];
const bandaiRed = [0.2,0.65,1.18,1.65,1.98,2.15,2.18,2.18,2.15,2.1,2.05,2.0,1.96,1.93];
const bandaiRedAlt = [0.2,0.63,1.15,1.62,1.95,2.1,null,null,null,null,null,null,null,null];
const bandaiTailX = [14.6, 14.8, 15];
const bandaiTails = [[2.18,2.18,2.2],[2.1,2.1,2.12],[2.02,2.02,2.03],[2.22,2.22,2.24]];
const bandaiRedTail = [2.0,2.0,2.0];

const iwateFits = [
  [0.2,1.0,1.85,2.45,2.85,3.08,3.12,3.15,3.2,3.1,3.0,2.95,2.92,2.9],
  [0.2,0.95,1.75,2.35,2.75,3.0,3.08,3.1,3.12,3.05,2.95,2.9,2.88,2.85],
  [0.2,0.9,1.65,2.25,2.65,2.9,3.0,3.02,3.05,2.98,2.9,2.85,2.82,2.8],
  [0.2,0.85,1.55,2.15,2.55,2.8,2.9,2.92,2.95,2.9,2.82,2.78,2.75,2.72],
  [0.2,0.8,1.45,2.05,2.45,2.7,2.8,2.85,2.85,2.8,2.75,2.72,2.7,2.68],
  [0.2,0.75,1.35,1.95,2.35,2.6,2.7,2.75,2.75,2.7,2.65,2.62,2.6,2.58],
  [0.2,0.72,1.3,1.85,2.25,2.5,2.6,2.62,2.62,2.58,2.55,2.52,2.5,2.48],
  [0.2,0.7,1.25,1.8,2.2,2.42,2.5,2.5,2.48,2.45,2.42,2.4,2.4,2.38],
  [0.2,0.88,1.6,2.2,2.6,2.85,2.95,3.0,3.0,2.92,2.85,2.8,2.78,2.75],
  [0.2,0.78,1.4,2.0,2.4,2.65,2.75,2.8,2.8,2.75,2.7,2.68,2.66,2.64],
  [0.2,1.02,1.9,2.5,2.9,3.1,3.15,3.18,3.22,3.12,3.02,2.98,2.95,2.92],
  [0.2,0.92,1.7,2.3,2.7,2.95,3.02,3.06,3.08,3.0,2.92,2.88,2.86,2.84],
  [0.2,0.86,1.58,2.18,2.58,2.82,2.92,2.96,2.98,2.92,2.86,2.82,2.8,2.78],
  [0.2,0.82,1.5,2.1,2.5,2.75,2.85,2.88,2.9,2.85,2.78,2.75,2.72,2.7],
  [0.2,0.77,1.38,1.96,2.36,2.62,2.72,2.76,2.76,2.72,2.66,2.64,2.62,2.6],
  [0.2,0.73,1.32,1.88,2.28,2.52,2.62,2.65,2.65,2.6,2.56,2.54,2.52,2.5],
  [0.2,0.7,1.26,1.82,2.22,2.45,2.55,2.56,2.55,2.5,2.46,2.44,2.43,2.42],
  [0.2,0.68,1.22,1.76,2.16,2.38,2.45,2.45,2.42,2.4,2.38,2.36,2.36,2.35],
  [0.2,0.96,1.78,2.4,2.8,3.05,3.1,3.12,3.15,3.08,2.98,2.92,2.9,2.88],
  [0.2,0.84,1.52,2.12,2.52,2.78,2.88,2.9,2.92,2.88,2.8,2.76,2.74,2.72]
];
const iwateRed = [0.2,0.75,1.4,1.95,2.3,2.57,2.8,2.9,2.72,2.66,2.62,2.6,2.62,2.58];
const iwateRedAlt = [0.2,0.72,1.32,1.88,2.25,2.5,2.65,2.72,2.7,2.66,null,null,null,null];
const iwateTailX = [14, 14.45, 14.9];
const iwateTails = [[2.9,2.92,2.98],[2.72,2.62,2.5],[2.55,2.45,2.3],[2.42,2.32,2.2],[2.8,2.7,2.55]];
const iwateRedTail = [2.58,2.5,null];

// ---------------- layout & styles ----------------
const FONT = '"Liberation Sans", Arial, Helvetica, sans-serif';
const AXIS_COLOR = '#1a1a1a';
const GREEN = 'rgba(24,238,24,0.9)';
const RED = '#d3260c';
const RED_ALT = '#a8381a';
const RING = 'rgba(44,124,184,0.68)';

const panels = [
  { obs: kirishimaObs, fits: kirishimaFits, red: kirishimaRed, redAlt: kirishimaRedAlt, tailX: kirishimaTailX, tails: kirishimaTails, redTail: kirishimaRedTail, fitWidth: 2.4 },
  { obs: unzenObs, fits: unzenFits, red: unzenRed, redAlt: unzenRedAlt, tailX: unzenTailX, tails: unzenTails, redTail: unzenRedTail, fitWidth: 1.7 },
  { obs: bandaiObs, fits: bandaiFits, red: bandaiRed, redAlt: bandaiRedAlt, tailX: bandaiTailX, tails: bandaiTails, redTail: bandaiRedTail, fitWidth: 2.4 },
  { obs: iwateObs, fits: iwateFits, red: iwateRed, redAlt: iwateRedAlt, tailX: iwateTailX, tails: iwateTails, redTail: iwateRedTail, fitWidth: 1.5 }
];

const gridBoxes = [
  { left: 53, top: 9, width: 434, height: 342 },
  { left: 580, top: 9, width: 434, height: 342 },
  { left: 53, top: 433, width: 435, height: 343 },
  { left: 580, top: 433, width: 434, height: 343 }
];
// label anchors: panel letter (left edge, vertical centre) and volcano name (right edge, vertical centre)
const letterPos = [[82, 57], [610, 57], [83, 473], [610, 473]];
const namePos = [[441, 59], [972, 59], [441, 472], [973, 472]];

const pairs = flat => { const out = []; for (let i = 0; i + 1 < flat.length; i += 2) out.push([flat[i], flat[i + 1]]); return out; };
const onGrid = (xs, ys) => xs.map((x, k) => [x, ys[k] == null ? null : ys[k]]).filter(p => p[1] !== null);

const xAxes = [], yAxes = [], series = [], graphics = [];
const tickStyle = { inside: true, length: 5, lineStyle: { color: AXIS_COLOR, width: 1.5 } };
const lineStyle = { color: AXIS_COLOR, width: 2 };

panels.forEach((p, i) => {
  const xMin = xTickValues[0], xMax = xTickValues[xTickValues.length - 1];
  const xStep = xTickValues[1] - xTickValues[0];
  const yMin = yTickValues[0], yStep = yTickValues[1] - yTickValues[0];
  xAxes.push({
    gridIndex: i, type: 'value', position: 'bottom', min: xMin, max: xMax, interval: xStep,
    name: 'Source-station distance (km)', nameLocation: 'middle', nameGap: 20,
    nameTextStyle: { fontSize: 19, color: '#111', fontFamily: FONT },
    axisLine: { onZero: false, lineStyle }, axisTick: tickStyle,
    axisLabel: { fontSize: 14, color: '#222', fontFamily: FONT, margin: 6 },
    splitLine: { show: false }
  });
  xAxes.push({
    gridIndex: i, type: 'value', position: 'top', min: xMin, max: xMax, interval: xStep,
    axisLine: { onZero: false, lineStyle }, axisTick: tickStyle,
    axisLabel: { show: false }, splitLine: { show: false }
  });
  yAxes.push({
    gridIndex: i, type: 'value', position: 'left', min: yMin, max: 6.5, interval: yStep,
    name: 'Envelope width (s)', nameLocation: 'middle', nameGap: 15,
    nameTextStyle: { fontSize: 19.5, color: '#111', fontFamily: FONT },
    axisLine: { onZero: false, lineStyle }, axisTick: tickStyle,
    axisLabel: { fontSize: 14, color: '#222', fontFamily: FONT, margin: 8,
      formatter: v => (yTickValues.indexOf(v) >= 0 ? String(v) : '') },
    splitLine: { show: false }
  });
  yAxes.push({
    gridIndex: i, type: 'value', position: 'right', min: yMin, max: 6.5, interval: yStep,
    axisLine: { onZero: false, lineStyle }, axisTick: tickStyle,
    axisLabel: { show: false }, splitLine: { show: false }
  });

  const xi = 2 * i, yi = 2 * i;
  series.push({
    type: 'scatter', xAxisIndex: xi, yAxisIndex: yi, data: pairs(p.obs),
    symbol: 'circle', symbolSize: 7.6, silent: true,
    itemStyle: { color: 'rgba(255,255,255,0)', borderColor: RING, borderWidth: 1.8 }
  });
  const lineBase = { type: 'line', xAxisIndex: xi, yAxisIndex: yi, showSymbol: false, silent: true, smooth: 0.35 };
  p.fits.forEach(ys => series.push(Object.assign({}, lineBase, {
    data: onGrid(FIT_X, ys), lineStyle: { color: GREEN, width: p.fitWidth }
  })));
  p.tails.forEach(ys => series.push(Object.assign({}, lineBase, {
    data: onGrid(p.tailX, ys), lineStyle: { color: GREEN, width: p.fitWidth }
  })));
  series.push(Object.assign({}, lineBase, { data: onGrid(FIT_X, p.redAlt), lineStyle: { color: RED_ALT, width: 1.5 } }));
  series.push(Object.assign({}, lineBase, { data: onGrid(FIT_X, p.red), lineStyle: { color: RED, width: 1.6 } }));
  series.push(Object.assign({}, lineBase, { data: onGrid(p.tailX, p.redTail), lineStyle: { color: RED, width: 1.6 } }));

  graphics.push({
    type: 'text', x: letterPos[i][0], y: letterPos[i][1], silent: true,
    style: { text: panelLetters[i], fontSize: 29, fontFamily: FONT, fill: '#111', align: 'left', verticalAlign: 'middle' }
  });
  graphics.push({
    type: 'text', x: namePos[i][0], y: namePos[i][1], silent: true,
    style: { text: volcanoNames[i], fontSize: 26, fontFamily: FONT, fill: '#111', align: 'right', verticalAlign: 'middle' }
  });
});

const chart = echarts.init(document.getElementById('chart'), null, { renderer: 'canvas' });
chart.setOption({
  animation: false,
  backgroundColor: '#ffffff',
  grid: gridBoxes.map(g => Object.assign({ containLabel: false }, g)),
  xAxis: xAxes,
  yAxis: yAxes,
  series: series,
  graphic: graphics
});
</script>
</body>
</html>
